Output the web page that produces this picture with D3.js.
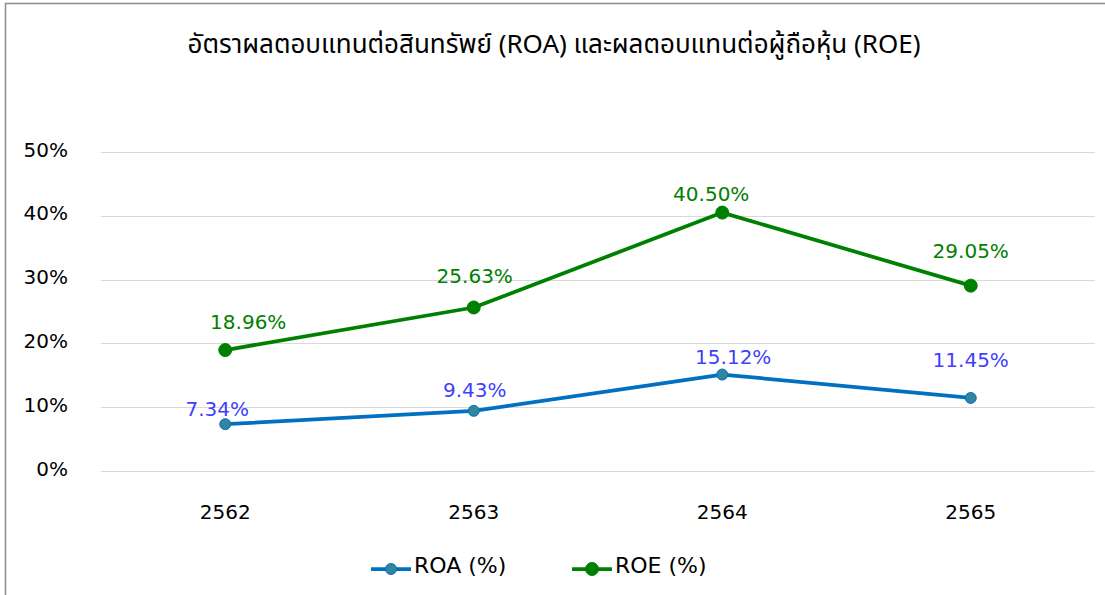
<!DOCTYPE html>
<html>
<head>
<meta charset="utf-8">
<script src="https://cdn.jsdelivr.net/npm/d3@7"></script>
<style>
  html, body { margin: 0; padding: 0; background: #fff; }
  svg text { font-family: "DejaVu Sans", Verdana, sans-serif; }
</style>
</head>
<body>
<div id="chart"></div>
<script>
// Chart data
const years = ['2562', '2563', '2564', '2565'];
const roa = [7.34, 9.43, 15.12, 11.45];
const roe = [18.96, 25.63, 40.50, 29.05];
const yTicks = [0, 10, 20, 30, 40, 50];
const seriesNames = ['ROA (%)', 'ROE (%)'];
const title = 'อัตราผลตอบแทนต่อสินทรัพย์ (ROA) และผลตอบแทนต่อผู้ถือหุ้น (ROE)';

// label nudges (px, baseline relative to the point) as placed in the original
const roaLabelOffset = [[-8, -8], [1, -14], [11, -10.5], [0, -31]];
const roeLabelOffset = [[23, -21], [1, -24.5], [-11, -12], [0, -28]];

const W = 1105, H = 595;
const margin = { top: 152, right: 10, bottom: 124, left: 101 };

const svg = d3.select('#chart').append('svg')
  .attr('width', W)
  .attr('height', H);

// frame
svg.append('path')
  .attr('d', `M5.5,${H} V3.5 H${W}`)
  .attr('fill', 'none')
  .attr('stroke', '#8c8c8c')
  .attr('stroke-width', 1.5);

svg.append('text')
  .attr('x', 554)
  .attr('y', 53)
  .attr('text-anchor', 'middle')
  .attr('font-size', 26)
  .style('font-family', '"Noto Sans Thai", "Noto Sans", "DejaVu Sans", sans-serif')
  .attr('fill', '#000')
  .text(title);

const x = d3.scaleBand()
  .domain(years)
  .range([margin.left, W - margin.right]);

const y = d3.scaleLinear()
  .domain([0, 50])
  .range([H - margin.bottom, margin.top]);

// gridlines
svg.append('g').selectAll('line')
  .data(yTicks).join('line')
  .attr('x1', margin.left)
  .attr('x2', W - margin.right)
  .attr('y1', d => Math.round(y(d)) + 0.5)
  .attr('y2', d => Math.round(y(d)) + 0.5)
  .attr('stroke', '#d9d9d9')
  .attr('stroke-width', 1);

// y axis labels
const yAxis = svg.append('g')
  .attr('transform', `translate(${margin.left},0)`)
  .call(d3.axisLeft(y).tickValues(yTicks).tickSize(0).tickPadding(33).tickFormat(d => d + '%'));
yAxis.select('.domain').remove();
yAxis.selectAll('text')
  .attr('font-size', 20)
  .attr('dy', '0.2em')
  .attr('fill', '#000')
  .style('font-family', '"DejaVu Sans", sans-serif');

// x axis labels
const xAxis = svg.append('g')
  .attr('transform', `translate(0,${y(0)})`)
  .call(d3.axisBottom(x).tickSize(0).tickPadding(34));
xAxis.select('.domain').remove();
xAxis.selectAll('text')
  .attr('font-size', 20)
  .attr('fill', '#000')
  .style('font-family', '"DejaVu Sans", sans-serif');

const cx = d => x(d) + x.bandwidth() / 2;

const series = [
  { name: seriesNames[0], values: roa, line: '#0070c0', dot: '#31859c', label: '#3f3fff', r: 5.5, off: roaLabelOffset },
  { name: seriesNames[1], values: roe, line: '#008000', dot: '#008000', label: '#008000', r: 6.5, off: roeLabelOffset },
];

const line = d3.line()
  .x((d, i) => cx(years[i]))
  .y(d => y(d));

series.forEach(s => {
  svg.append('path')
    .datum(s.values)
    .attr('d', line)
    .attr('fill', 'none')
    .attr('stroke', s.line)
    .attr('stroke-width', 3.75)
    .attr('stroke-linejoin', 'round');

  svg.append('g').selectAll('circle')
    .data(s.values).join('circle')
    .attr('cx', (d, i) => cx(years[i]))
    .attr('cy', d => y(d))
    .attr('r', s.r)
    .attr('fill', s.dot)
    .attr('stroke', s.line)
    .attr('stroke-width', 1);

  svg.append('g').selectAll('text')
    .data(s.values).join('text')
    .attr('x', (d, i) => cx(years[i]) + s.off[i][0])
    .attr('y', (d, i) => y(d) + s.off[i][1])
    .attr('text-anchor', 'middle')
    .attr('font-size', 20)
    .attr('fill', s.label)
    .text(d => d.toFixed(2) + '%');
});

// legend
const legend = svg.append('g').attr('transform', 'translate(0,569)');
const legendX = [371, 572];
series.forEach((s, i) => {
  const g = legend.append('g').attr('transform', `translate(${legendX[i]},0)`);
  g.append('line')
    .attr('x1', 0).attr('x2', 40)
    .attr('stroke', s.line)
    .attr('stroke-width', 3.75);
  g.append('circle')
    .attr('cx', 20)
    .attr('r', s.r)
    .attr('fill', s.dot)
    .attr('stroke', s.line);
  g.append('text')
    .attr('x', 43)
    .attr('y', 4)
    .attr('font-size', 22)
    .attr('fill', '#000')
    .text(s.name);
});
</script>
</body>
</html>
